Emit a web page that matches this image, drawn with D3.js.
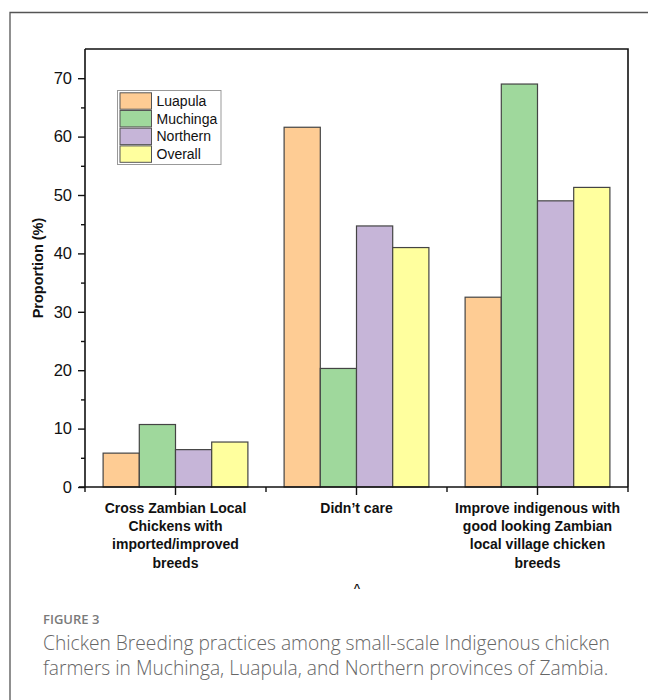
<!DOCTYPE html>
<html>
<head>
<meta charset="utf-8">
<script src="https://cdn.jsdelivr.net/npm/d3@7"></script>
<style>
  html, body { margin: 0; padding: 0; background: #fff; }
  svg { display: block; }
</style>
</head>
<body>
<script>
// Breeding practice categories (x axis), one group of bars each
const categories = [
  ["Cross Zambian Local", "Chickens with", "imported/improved", "breeds"],
  ["Didn\u2019t care"],
  ["Improve indigenous with", "good looking Zambian", "local village chicken", "breeds"]
];
const categoryKeys = ["cross", "didnt", "improve"];

// Provinces / series
const seriesNames = ["Luapula", "Muchinga", "Northern", "Overall"];
const seriesColors = ["#FECC94", "#9FD89C", "#C6B5D8", "#FFFF9E"];

// Proportion (%) per series, in category order
const luapula  = [5.8, 61.6, 32.5];
const muchinga = [10.7, 20.3, 69.0];
const northern = [6.4, 44.7, 49.0];
const overall  = [7.7, 41.0, 51.3];
const seriesValues = [luapula, muchinga, northern, overall];

const yMajorTicks = [0, 10, 20, 30, 40, 50, 60, 70];
const yMinorTicks = [5, 15, 25, 35, 45, 55, 65];

const W = 648, H = 700;
const plot = { left: 85, right: 628, top: 49, bottom: 487 };

const svg = d3.select("body").append("svg")
  .attr("width", W).attr("height", H);

// card border (open on right and bottom)
svg.append("path")
  .attr("d", `M10,${H} L10,12.5 L${W},12.5`)
  .attr("fill", "none").attr("stroke", "#555").attr("stroke-width", 1.3);

const x = d3.scaleBand().domain(categoryKeys)
  .range([plot.left, plot.right]).paddingInner(0.2).paddingOuter(0.1);
const xs = d3.scaleBand().domain(seriesNames).range([0, x.bandwidth()]);
const y = d3.scaleLinear().domain([0, 75]).range([plot.bottom, plot.top]);

// bars
const g = svg.append("g");
categoryKeys.forEach((k, ci) => {
  const grp = g.append("g").attr("transform", `translate(${x(k)},0)`);
  grp.selectAll("rect")
    .data(seriesNames.map((s, si) => ({ s, si, v: seriesValues[si][ci] })))
    .join("rect")
    .attr("x", d => xs(d.s))
    .attr("y", d => y(d.v))
    .attr("width", xs.bandwidth())
    .attr("height", d => y(0) - y(d.v))
    .attr("fill", d => seriesColors[d.si])
    .attr("stroke", "#444").attr("stroke-width", 1.2);
});

// frame (top and right)
svg.append("path")
  .attr("d", `M${plot.left},${plot.top} L${plot.right},${plot.top} L${plot.right},${plot.bottom}`)
  .attr("fill", "none").attr("stroke", "#111").attr("stroke-width", 1.6);

// y axis
const yAxis = svg.append("g").attr("transform", `translate(${plot.left},0)`)
  .call(d3.axisLeft(y).tickValues(yMajorTicks).tickSize(7).tickPadding(6).tickSizeOuter(0));
svg.append("g").attr("transform", `translate(${plot.left},0)`)
  .call(d3.axisLeft(y).tickValues(yMinorTicks).tickSize(4).tickFormat("").tickSizeOuter(0))
  .select(".domain").remove();
yAxis.select(".domain").attr("d", `M0,${plot.bottom}V${plot.top}`);
svg.selectAll(".tick line").attr("stroke", "#111").attr("stroke-width", 1.4);
yAxis.select(".domain").attr("stroke", "#111").attr("stroke-width", 1.6);
yAxis.selectAll(".tick text")
  .attr("font-family", "Liberation Sans, Arial, sans-serif")
  .attr("font-size", 16.5).attr("fill", "#111");

// x axis: major ticks at category centres, minor ticks at group boundaries
const step = x.step();
const xAxisG = svg.append("g").attr("transform", `translate(0,${plot.bottom})`);
xAxisG.append("line")
  .attr("x1", plot.left - 6).attr("x2", plot.right)
  .attr("stroke", "#111").attr("stroke-width", 1.6);
xAxisG.selectAll("line.major").data(categoryKeys).join("line")
  .attr("class", "major")
  .attr("x1", d => x(d) + x.bandwidth() / 2).attr("x2", d => x(d) + x.bandwidth() / 2)
  .attr("y1", 0).attr("y2", 8)
  .attr("stroke", "#111").attr("stroke-width", 1.4);
const boundaries = categoryKeys.map(k => x(k) - step * x.paddingInner() / 2)
  .concat([x(categoryKeys[categoryKeys.length - 1]) + x.bandwidth() + step * x.paddingInner() / 2]);
xAxisG.selectAll("line.minor").data(boundaries).join("line")
  .attr("class", "minor")
  .attr("x1", d => d).attr("x2", d => d)
  .attr("y1", 0).attr("y2", 5)
  .attr("stroke", "#111").attr("stroke-width", 1.4);

// category labels
categoryKeys.forEach((k, ci) => {
  const t = svg.append("text")
    .attr("x", x(k) + x.bandwidth() / 2)
    .attr("y", 512.5)
    .attr("text-anchor", "middle")
    .attr("font-family", "Liberation Sans, Arial, sans-serif")
    .attr("font-weight", "bold").attr("font-size", 14).attr("fill", "#111");
  categories[ci].forEach((line, li) => {
    t.append("tspan").attr("x", x(k) + x.bandwidth() / 2)
      .attr("dy", li === 0 ? 0 : 18.4).text(line);
  });
});

// y axis title
svg.append("text")
  .attr("transform", `translate(43,${(plot.top + plot.bottom) / 2}) rotate(-90)`)
  .attr("text-anchor", "middle")
  .attr("font-family", "Liberation Sans, Arial, sans-serif")
  .attr("font-weight", "bold").attr("font-size", 14.5).attr("fill", "#111")
  .text("Proportion (%)");

// legend
const leg = svg.append("g").attr("transform", "translate(117.5,90.5)");
leg.append("rect").attr("width", 103.5).attr("height", 74)
  .attr("fill", "#fff").attr("stroke", "#999").attr("stroke-width", 1);
seriesNames.forEach((s, i) => {
  const row = leg.append("g").attr("transform", `translate(0,${2.3 + i * 17.7})`);
  row.append("rect").attr("x", 2.5).attr("width", 31.5).attr("height", 16.4)
    .attr("fill", seriesColors[i]).attr("stroke", "#555").attr("stroke-width", 1);
  row.append("text").attr("x", 39).attr("y", 13.3)
    .attr("font-family", "Liberation Sans, Arial, sans-serif")
    .attr("font-size", 14).attr("fill", "#111").text(s);
});

// small caret mark under the axis labels
svg.append("text").attr("x", 357).attr("y", 592)
  .attr("text-anchor", "middle")
  .attr("font-family", "Liberation Sans, Arial, sans-serif")
  .attr("font-size", 11).attr("font-weight", "bold").attr("fill", "#111").text("^");

// caption
svg.append("text").attr("x", 43).attr("y", 623.5)
  .attr("font-family", "Open Sans, Lato, sans-serif")
  .attr("font-weight", 600).attr("font-size", 13).attr("fill", "#7a7a7a")
  .text("FIGURE 3");
const capLines = [
  "Chicken Breeding practices among small-scale Indigenous chicken",
  "farmers in Muchinga, Luapula, and Northern provinces of Zambia."
];
const cap = svg.append("text").attr("x", 43).attr("y", 649.5)
  .attr("font-family", "Open Sans, Lato, sans-serif")
  .attr("font-weight", 300).attr("font-size", 17).attr("fill", "#666");
capLines.forEach((l, i) => {
  cap.append("tspan").attr("x", 43).attr("dy", i === 0 ? 0 : 25.5).text(l);
});
// fit the caption's first line to its column width
const len = cap.select("tspan").node().getComputedTextLength();
cap.attr("font-size", 17 * 567 / len);
</script>
</body>
</html>
